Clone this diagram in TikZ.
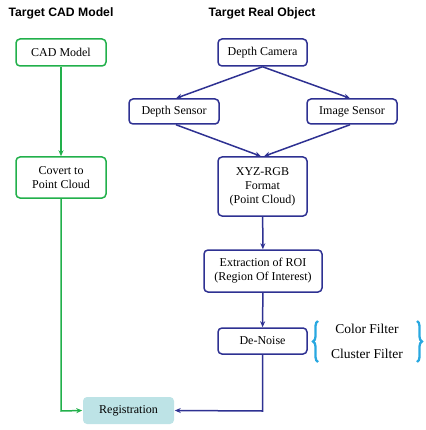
\documentclass[tikz,border=0pt]{standalone}
\usepackage{fontspec}
\setmainfont{Liberation Serif}
\newfontfamily\titlefont{Liberation Sans}
\usetikzlibrary{arrows.meta,decorations.pathreplacing}
\definecolor{gline}{HTML}{22B04B}
\definecolor{bline}{HTML}{2E3192}
\definecolor{regfill}{HTML}{BDE3E6}
\definecolor{brc}{HTML}{29A8E0}
\begin{document}
\begin{tikzpicture}[x=1pt,y=-1pt,
  box/.style={draw,rounded corners=4pt,line width=1.5pt,align=center,font=\fontsize{12}{14}\selectfont,inner sep=0pt},
  gbox/.style={box,draw=gline},
  bbox/.style={box,draw=bline},
  garr/.style={draw=gline,line width=1.5pt,-{Stealth[length=6pt,width=5pt]}},
  barr/.style={draw=bline,line width=1.5pt,-{Stealth[length=6pt,width=5pt]}},
  ttl/.style={font=\titlefont\bfseries\fontsize{12.2}{14}\selectfont},
  ftxt/.style={font=\fontsize{13.5}{15}\selectfont},
  brc/.style={draw=brc,line width=2.3pt,decorate,decoration={brace,amplitude=5pt}}
]
\useasboundingbox (0,0) rectangle (425,430);
\node[ttl] (t1) at (61,13) {Target CAD Model};
\node[ttl] (t2) at (262,13) {Target Real Object};
\node[gbox,minimum width=90pt,minimum height=27pt] (cad) at (61,52.5) {CAD Model};
\node[bbox,minimum width=89pt,minimum height=27pt] (cam) at (262.5,52.5) {Depth Camera};
\node[bbox,minimum width=90pt,minimum height=25pt] (ds) at (174,111.5) {Depth Sensor};
\node[bbox,minimum width=90pt,minimum height=25pt] (is) at (352,111.5) {Image Sensor};
\node[gbox,minimum width=90pt,minimum height=41pt] (cov) at (61,177.5) {Covert to\\Point Cloud};
\node[bbox,minimum width=89pt,minimum height=59pt] (xyz) at (262.5,186.5) {XYZ-RGB\\Format\\(Point Cloud)};
\node[bbox,minimum width=118pt,minimum height=42pt] (roi) at (263,271) {Extraction of ROI\\(Region Of Interest)};
\node[bbox,minimum width=89pt,minimum height=26pt] (dn) at (262.5,341) {De-Noise};
\node[box,draw=none,fill=regfill,minimum width=91pt,minimum height=27pt] (reg) at (128.5,410.5) {Registration};
\node[ftxt] (cf) at (367,329) {Color Filter};
\node[ftxt] (clf) at (367,354) {Cluster Filter};
\coordinate (b1a) at (318,362);
\coordinate (b1b) at (318,321);
\coordinate (b2a) at (417,321);
\coordinate (b2b) at (417,362);
\draw[brc] (b1a) -- (b1b);
\draw[brc] (b2a) -- (b2b);
\coordinate (gc) at (61,411);
\coordinate (bc) at (262.5,411);
\draw[garr] (cad) -- (cov);
\draw[garr] (cov.south) -- (gc) -- (reg.west);
\draw[barr] (cam.south) -- ([xshift=2pt]ds.north);
\draw[barr] (cam.south) -- ([xshift=-2pt]is.north);
\draw[barr] ([xshift=2pt]ds.south) -- ([xshift=-1.5pt]xyz.north);
\draw[barr] ([xshift=-2pt]is.south) -- ([xshift=1.5pt]xyz.north);
\draw[barr] (xyz) -- (roi);
\draw[barr] (roi) -- (dn);
\draw[barr] (dn.south) -- (bc) -- (reg.east);
\end{tikzpicture}
\end{document}
